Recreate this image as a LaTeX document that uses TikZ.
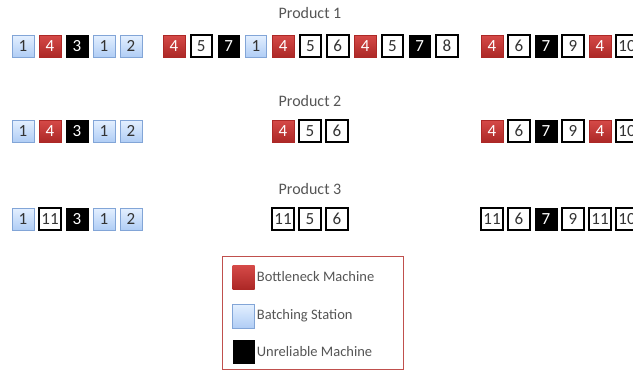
\documentclass[tikz,border=0pt]{standalone}
\usepackage{fontspec}
\setmainfont{Carlito}
\usetikzlibrary{positioning}
\definecolor{NeckTop}{RGB}{214,74,72}
\definecolor{NeckBottom}{RGB}{172,40,38}
\definecolor{BatchTop}{RGB}{228,240,255}
\definecolor{BatchBottom}{RGB}{176,205,245}
\definecolor{BatchEdge}{RGB}{130,165,215}
\definecolor{TitleGray}{RGB}{85,85,85}
\definecolor{LegendRed}{RGB}{192,80,77}

\begin{document}
\begin{tikzpicture}[x=1pt,y=-1pt,
  cell/.style={minimum width=21.5pt,minimum height=22pt,inner sep=0pt,
    font=\fontsize{17}{17}\selectfont},
  neck/.style={cell,top color=NeckTop,bottom color=NeckBottom,draw=NeckBottom,text=white},
  batch/.style={cell,top color=BatchTop,bottom color=BatchBottom,draw=BatchEdge,text=black!80},
  flaky/.style={cell,fill=black,draw=black,text=white},
  plain/.style={cell,fill=white,draw=black,line width=2pt,text=black!80},
  title/.style={font=\fontsize{16}{16}\selectfont,text=TitleGray},
  swatch/.style={minimum width=22pt,minimum height=24pt,inner sep=0pt},
  legtext/.style={font=\fontsize{14.5}{14.5}\selectfont,text=TitleGray,inner sep=1pt}
]
\useasboundingbox (0,0) rectangle (633,372);

% product 1
\node[title] (title1) at (310,13) {Product 1};
\foreach \s/\t [count=\k from 0] in {batch/1,neck/4,flaky/3,batch/1,batch/2}
  \node[\s] (p1a-\k) at (23+27*\k,46) {\t};
\foreach \s/\t [count=\k from 0] in {neck/4,plain/5,flaky/7,batch/1,neck/4,plain/5,plain/6,neck/4,plain/5,flaky/7,plain/8}
  \node[\s] (p1b-\k) at (174+27.3*\k,46) {\t};
\foreach \s/\t [count=\k from 0] in {neck/4,plain/6,flaky/7,plain/9,neck/4,plain/10}
  \node[\s] (p1c-\k) at (492+27*\k,46) {\t};

% product 2
\node[title] (title2) at (310,101) {Product 2};
\foreach \s/\t [count=\k from 0] in {batch/1,neck/4,flaky/3,batch/1,batch/2}
  \node[\s] (p2a-\k) at (23+27*\k,131) {\t};
\foreach \s/\t [count=\k from 0] in {neck/4,plain/5,plain/6}
  \node[\s] (p2b-\k) at (283+27*\k,131) {\t};
\foreach \s/\t [count=\k from 0] in {neck/4,plain/6,flaky/7,plain/9,neck/4,plain/10}
  \node[\s] (p2c-\k) at (492+27*\k,131) {\t};

% product 3
\node[title] (title3) at (310,189) {Product 3};
\foreach \s/\t [count=\k from 0] in {batch/1,plain/11,flaky/3,batch/1,batch/2}
  \node[\s] (p3a-\k) at (23+27*\k,219) {\t};
\foreach \s/\t [count=\k from 0] in {plain/11,plain/5,plain/6}
  \node[\s] (p3b-\k) at (283+27*\k,219) {\t};
\foreach \s/\t [count=\k from 0] in {plain/11,plain/6,flaky/7,plain/9,plain/11,plain/10}
  \node[\s] (p3c-\k) at (492+27*\k,219) {\t};

% legend
\node[draw=LegendRed,line width=1.3pt,minimum width=181pt,minimum height=113pt] (legend) at (313,313) {};
\node[swatch,top color=NeckTop,bottom color=NeckBottom] (keyneck) at (243.5,277) {};
\node[swatch,top color=BatchTop,bottom color=BatchBottom,draw=BatchEdge] (keybatch) at (243.5,316) {};
\node[swatch,fill=black] (keyflaky) at (243.5,352) {};
\node[legtext,right=1pt of keyneck] (txtneck) {Bottleneck Machine};
\node[legtext,right=1pt of keybatch] (txtbatch) {Batching Station};
\node[legtext,right=1pt of keyflaky] (txtflaky) {Unreliable Machine};
\end{tikzpicture}
\end{document}
